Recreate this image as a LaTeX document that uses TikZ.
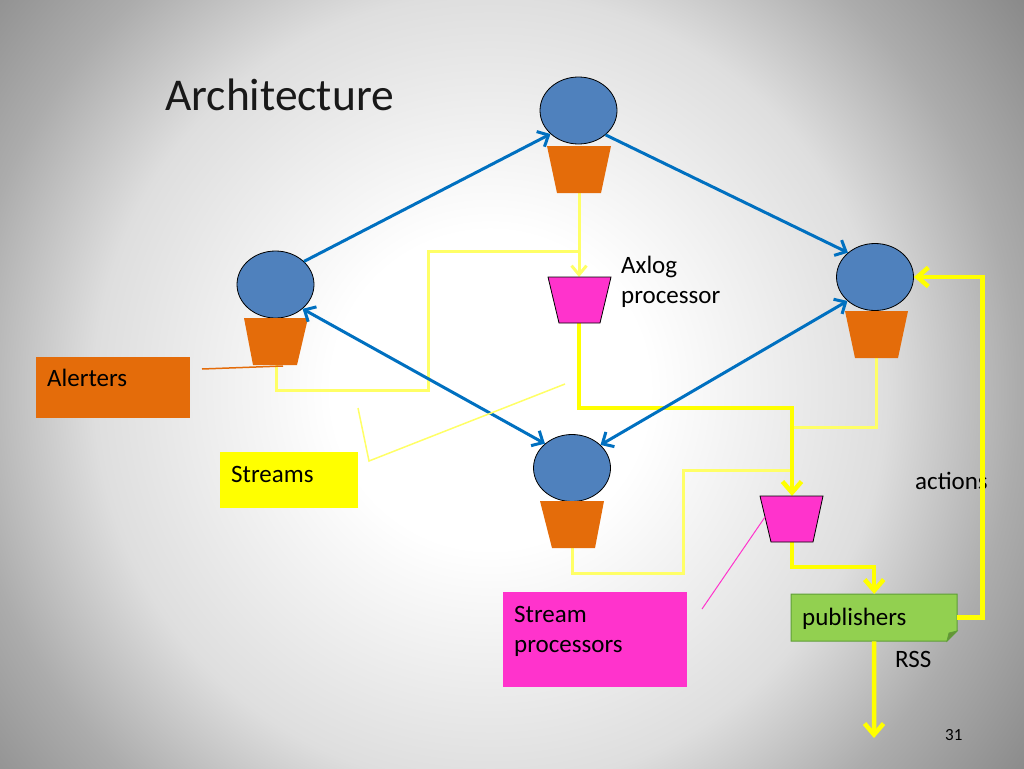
\documentclass[tikz,border=0pt]{standalone}
\usepackage{fontspec}
\setmainfont{Carlito}
\usetikzlibrary{arrows.meta,shapes.geometric}
\definecolor{bubbleblue}{HTML}{4F81BD}
\definecolor{arrowblue}{HTML}{0070C0}
\definecolor{potorange}{HTML}{E46C0A}
\definecolor{procmagenta}{HTML}{FF33CC}
\definecolor{ybright}{HTML}{FFFF00}
\definecolor{ypale}{HTML}{FFFF66}
\definecolor{pubgreen}{HTML}{92D050}
\definecolor{pubedge}{HTML}{5E9E36}
\definecolor{bgA}{RGB}{222,222,222}
\definecolor{bgB}{RGB}{172,172,172}
\definecolor{bgC}{RGB}{138,138,138}
\pgfdeclareradialshading{slidebg}{\pgfpoint{0bp}{0bp}}{color(0bp)=(white); color(6bp)=(white); color(15bp)=(bgA); color(20bp)=(bgB); color(25bp)=(bgC); color(50bp)=(bgC)}
\begin{document}
\begin{tikzpicture}[x=1pt,y=-1pt,
  bubble/.style={ellipse, draw=black, line width=0.8pt, fill=bubbleblue, minimum width=77pt, minimum height=67pt, inner sep=0pt},
  potshape/.style={fill=potorange},
  procshape/.style={fill=procmagenta, draw=black, line width=0.8pt},
  barrow/.style={draw=arrowblue, line width=3pt, -{Straight Barb[length=9pt,width=17pt]}},
  bdarrow/.style={draw=arrowblue, line width=3pt, {Straight Barb[length=9pt,width=17pt]}-{Straight Barb[length=9pt,width=17pt]}},
  paleline/.style={draw=ypale, line width=3pt},
  brightline/.style={draw=ybright, line width=4.5pt},
  paletip/.style={-{Straight Barb[length=9pt,width=15pt]}},
  brighttip/.style={-{Straight Barb[length=11pt,width=19pt]}},
  lbl/.style={anchor=base west, inner sep=0pt, font=\fontsize{25}{30}\selectfont},
  box/.style={anchor=north west, inner xsep=11pt, inner ysep=0pt, align=left, font=\fontsize{25}{30}\selectfont}
]
\useasboundingbox (0,0) rectangle (1024,768);
\begin{scope}
  \clip (0,0) rectangle (1024,768);
  \shade[shading=slidebg] (-170,-270) rectangle (1150,1050);
\end{scope}

% title
\node[anchor=base west, inner sep=0pt, font=\fontsize{45.5}{52}\selectfont, text=black!90] (title) at (165,110) {Architecture};

% bubbles
\node[bubble] (nT) at (578.5,110.5) {};
\node[bubble] (nL) at (275.5,284.5) {};
\node[bubble] (nR) at (875,277) {};
\node[bubble] (nB) at (572,468) {};

% junction coordinates
\coordinate (pT) at (579,193);
\coordinate (pL) at (276,365);
\coordinate (pR) at (876.5,358);
\coordinate (pB) at (572,548);
\coordinate (aT) at (579,277);
\coordinate (aB) at (579,323);
\coordinate (bT) at (792,496);
\coordinate (bB) at (792,542);
\coordinate (j1) at (579,251);
\coordinate (j2) at (792,427);
\coordinate (j3) at (792,470);
\coordinate (rssEnd) at (874,738);

% boxes
\node[box, fill=potorange, text width=132pt, text height=29pt, text depth=32pt] (alert) at (36,357) {Alerters};
\node[box, fill=ybright, text width=116pt, text height=30pt, text depth=26pt] (streams) at (220,452) {Streams};
\node[box, fill=procmagenta, text width=162pt, text height=30pt, text depth=65pt] (sproc) at (503,592) {Stream\\processors};
\fill[pubgreen] (791,594) -- (957,594) -- (957,631) -- (947,641) -- (791,641) -- cycle;
\draw[pubedge, line width=1pt] (791,594) -- (957,594) -- (957,631) -- (947,641) -- (791,641) -- cycle;
\filldraw[fill=pubgreen!70!black, draw=pubedge, line width=0.8pt] (957,631) -- (949,633) -- (947,641) -- cycle;
\node[box, text width=144pt, text height=31pt, text depth=16pt] (pub) at (791,594) {publishers};

% yellow connectors
\draw[paleline] (pL) -- ++(0,25) -| (428,251) -- (j1);
\draw[paleline, paletip] (pT) -- (aT);
\draw[paleline] (pR) |- (j2);
\draw[paleline] (pB) -- ++(0,25) -| (683,470) -- (j3);
\draw[brightline, brighttip] (aB) -- ++(0,85) -| (bT);
\draw[brightline, brighttip] (bB) -- ++(0,25) -| (pub.north);
\draw[brightline, brighttip] (pub.south) -- (rssEnd);

% pots
\fill[potshape] (547,146) -- (611,146) -- (601,193) -- (557,193) -- cycle;
\fill[potshape] (244,318) -- (308,318) -- (297,365) -- (253,365) -- cycle;
\fill[potshape] (845,311) -- (908,311) -- (898,358) -- (855,358) -- cycle;
\fill[potshape] (540,501) -- (604,501) -- (595,548) -- (552,548) -- cycle;

% processors
\draw[procshape] (548,277) -- (611,277) -- (600,323) -- (559,323) -- cycle;
\draw[procshape] (760,496) -- (823,496) -- (813,542) -- (771,542) -- cycle;

% blue arrows
\draw[barrow] (nL.39) -- (nT.220);
\draw[barrow] (nT.-42) -- (nR.138);
\draw[bdarrow] (nL.-42) -- (nB.138);
\draw[bdarrow] (nR.221) -- (nB.39);

% callout lines
\draw[potorange, line width=1.5pt] (202,369) -- (283,366);
\draw[ypale, line width=1.5pt] (358,408) -- (369,461) -- (565,384);
\draw[procmagenta, line width=1pt] (702,609) -- (765,517);

% labels
\node[lbl] (axl1) at (621,273) {Axlog};
\node[lbl] (axl2) at (621,303) {processor};
\node[lbl] (act) at (915,489) {actions};
\node[lbl] (rss) at (895,667) {RSS};
\node[anchor=base west, inner sep=0pt, font=\fontsize{17}{20}\selectfont] (pg) at (945,740) {31};

% feedback to right bubble (drawn over the "actions" label)
\draw[brightline, brighttip] (pub.east) -- ++(25,0) |- (nR.east);
\end{tikzpicture}
\end{document}
